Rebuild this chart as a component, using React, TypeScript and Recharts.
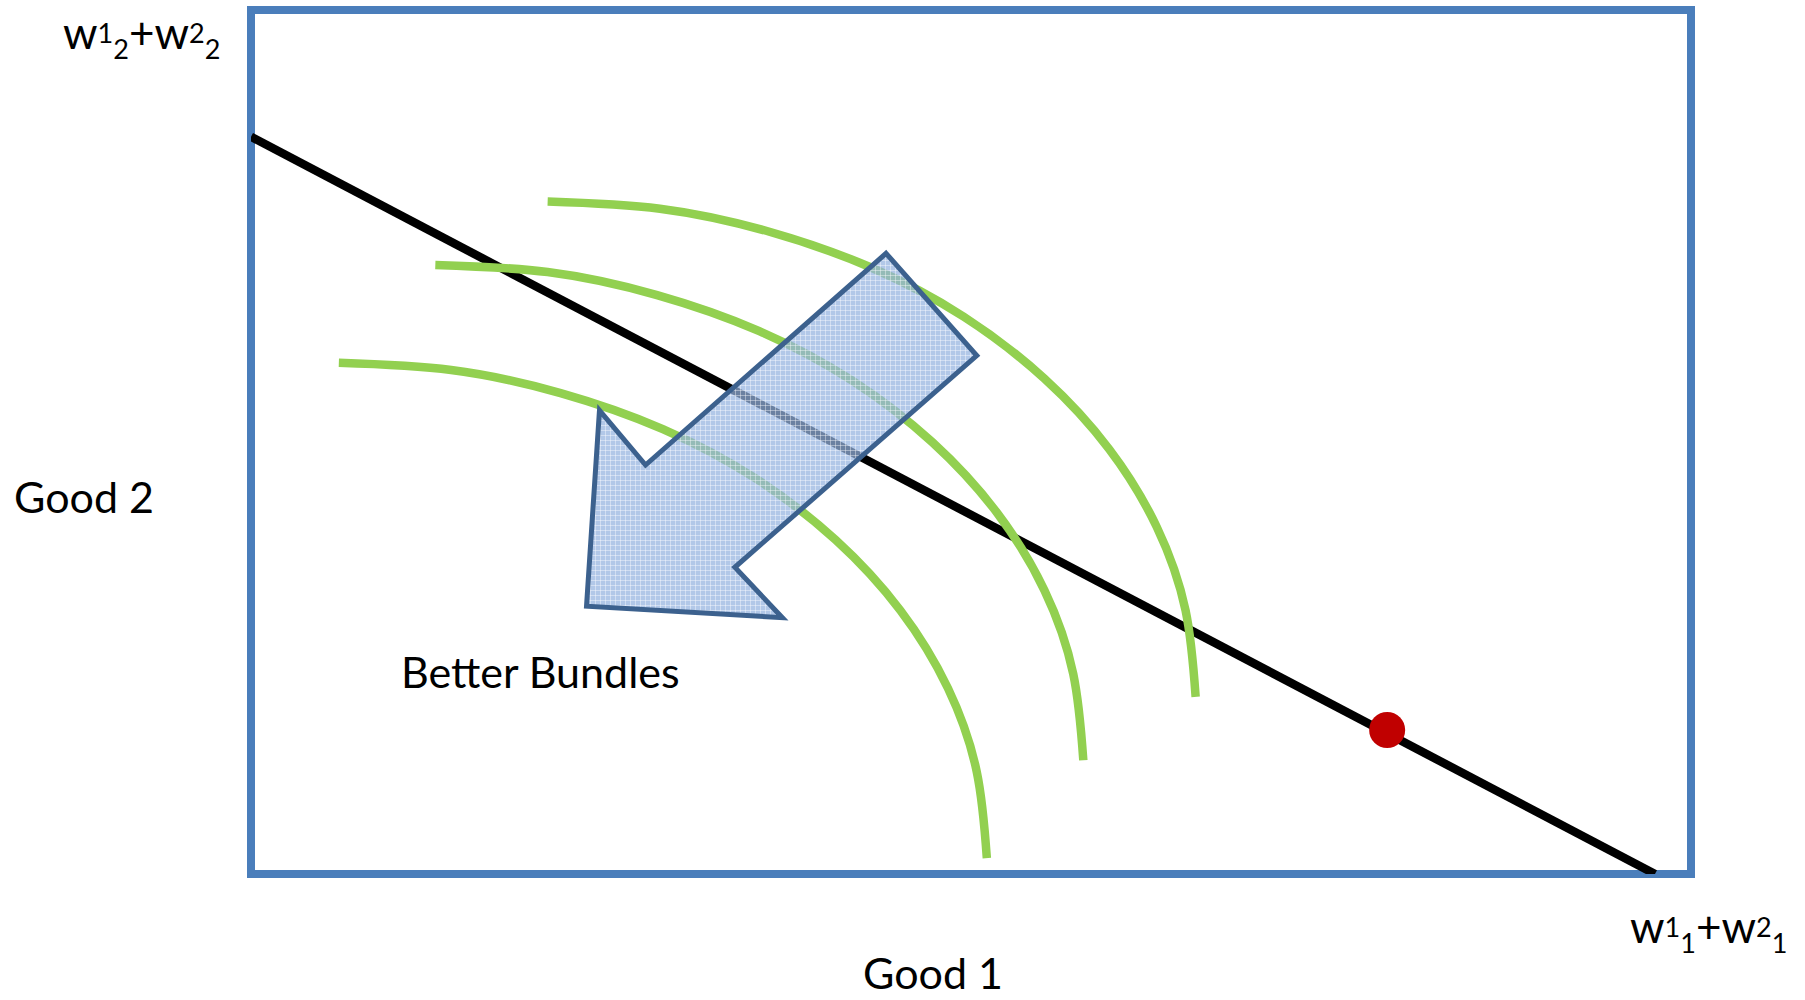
import {
  ComposedChart,
  Line,
  Scatter,
  XAxis,
  YAxis,
  ReferenceArea,
} from "recharts";

// budget line from (0, w12+w22) to (w11+w21, 0)
const budgetLine = [
  { x: 0, y: 51.2 },
  { x: 97.5, y: 0 },
];

// indifference curves, outer to inner
const curveHigh = [
  { x: 20.6, y: 46.7 },
  { x: 28.4, y: 46.2 },
  { x: 36.0, y: 44.6 },
  { x: 43.1, y: 42.1 },
  { x: 49.5, y: 38.7 },
  { x: 55.1, y: 34.4 },
  { x: 59.6, y: 29.5 },
  { x: 62.9, y: 24.1 },
  { x: 64.9, y: 18.3 },
  { x: 65.6, y: 12.3 },
];
const curveMid = [
  { x: 12.8, y: 42.3 },
  { x: 20.6, y: 41.8 },
  { x: 28.2, y: 40.2 },
  { x: 35.3, y: 37.7 },
  { x: 41.7, y: 34.3 },
  { x: 47.3, y: 30.0 },
  { x: 51.8, y: 25.1 },
  { x: 55.1, y: 19.7 },
  { x: 57.1, y: 13.9 },
  { x: 57.8, y: 7.9 },
];
const curveLow = [
  { x: 6.1, y: 35.5 },
  { x: 13.9, y: 35.0 },
  { x: 21.5, y: 33.4 },
  { x: 28.6, y: 30.9 },
  { x: 35.0, y: 27.5 },
  { x: 40.6, y: 23.2 },
  { x: 45.1, y: 18.3 },
  { x: 48.4, y: 12.9 },
  { x: 50.4, y: 7.1 },
  { x: 51.1, y: 1.1 },
];

// "better bundles" arrow outline
const arrowOutline = [
  { x: 44.1, y: 43.1 },
  { x: 50.4, y: 36.0 },
  { x: 33.6, y: 21.3 },
  { x: 36.9, y: 17.8 },
  { x: 23.3, y: 18.6 },
  { x: 24.2, y: 32.2 },
  { x: 27.4, y: 28.4 },
];

// endowment point
const endowment = [{ x: 78.9, y: 10.0 }];

const FONT = "Lato, 'Noto Sans', sans-serif";
const GREEN = "#92d050";

const ArrowShape = (props: any) => {
  const pts = props.points || [];
  if (!pts.length) return null;
  const d =
    pts.map((p: any, i: number) => `${i ? "L" : "M"}${p.x},${p.y}`).join(" ") +
    " Z";
  return (
    <g>
      <defs>
        <pattern id="arrowGrid" width="5" height="5" patternUnits="userSpaceOnUse">
          <rect width="5" height="5" fill="#94b3df" fillOpacity={0.72} />
          <path d="M0,0.5 H5 M0.5,0 V5" stroke="#ffffff" strokeOpacity={0.4} strokeWidth={1} />
        </pattern>
      </defs>
      <path
        d={d}
        fill="url(#arrowGrid)"
        stroke="#3c618e"
        strokeWidth={5}
        strokeLinejoin="miter"
      />
    </g>
  );
};

const EmptyShape = () => <g />;

export default function App() {
  return (
    <div
      style={{
        position: "absolute",
        left: 0,
        top: 0,
        width: 1805,
        height: 1000,
        background: "#fff",
      }}
    >
      <ComposedChart
        width={1805}
        height={1000}
        margin={{ top: 10, right: 114, bottom: 126, left: 251 }}
      >
        <XAxis type="number" dataKey="x" domain={[0, 100]} hide allowDataOverflow />
        <YAxis type="number" dataKey="y" domain={[0, 60]} hide allowDataOverflow />

        <Line
          data={budgetLine}
          dataKey="y"
          type="linear"
          stroke="#000"
          strokeWidth={8.5}
          dot={false}
          activeDot={false}
          isAnimationActive={false}
        />
        {[curveHigh, curveMid, curveLow].map((c, i) => (
          <Line
            key={i}
            data={c}
            dataKey="y"
            type="natural"
            stroke={GREEN}
            strokeWidth={8.5}
            dot={false}
            activeDot={false}
            isAnimationActive={false}
          />
        ))}
        <Scatter
          data={arrowOutline}
          dataKey="y"
          line={ArrowShape}
          lineType="joint"
          shape={EmptyShape}
          isAnimationActive={false}
        />
        <Scatter
          data={endowment}
          dataKey="y"
          fill="#c00000"
          shape={(p: any) => <circle cx={p.cx} cy={p.cy} r={18} fill="#c00000" />}
          isAnimationActive={false}
        />
        <ReferenceArea
          x1={0}
          x2={100}
          y1={0}
          y2={60}
          fill="none"
          stroke="#4a7ebb"
          strokeWidth={8}
        />
      </ComposedChart>

      <svg
        width={1805}
        height={1000}
        style={{ position: "absolute", left: 0, top: 0, pointerEvents: "none" }}
        fontFamily={FONT}
        fill="#000"
      >
        <text x={63} y={49} fontSize={44}>
          <tspan>w</tspan>
          <tspan dy={-6} fontSize={27}>1</tspan>
          <tspan dy={16} fontSize={27}>2</tspan>
          <tspan dy={-10}>+w</tspan>
          <tspan dy={-6} fontSize={27}>2</tspan>
          <tspan dy={16} fontSize={27}>2</tspan>
        </text>
        <text x={14} y={513} fontSize={43}>Good 2</text>
        <text x={863} y={989} fontSize={43}>Good 1</text>
        <text x={401} y={688} fontSize={43}>Better Bundles</text>
        <text x={1630} y={943} fontSize={44}>
          <tspan>w</tspan>
          <tspan dy={-6} fontSize={27}>1</tspan>
          <tspan dy={16} fontSize={27}>1</tspan>
          <tspan dy={-10}>+w</tspan>
          <tspan dy={-6} fontSize={27}>2</tspan>
          <tspan dy={16} fontSize={27}>1</tspan>
        </text>
      </svg>
    </div>
  );
}
